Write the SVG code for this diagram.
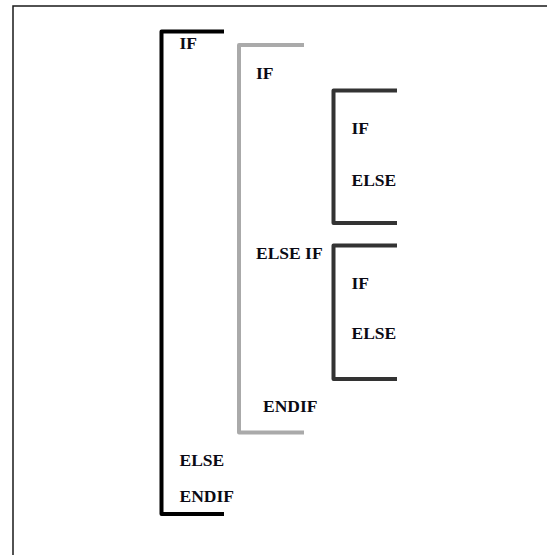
<svg xmlns="http://www.w3.org/2000/svg" width="547" height="555" viewBox="0 0 547 555">
  <style>
    .frame { fill: none; stroke: #1a1a1a; stroke-width: 1.5; }
    .br { fill: none; stroke-linejoin: round; stroke-linecap: square; }
    .outer { stroke: #000; stroke-width: 4; }
    .mid { stroke: #aaaaaa; stroke-width: 4; }
    .inner { stroke: #333; stroke-width: 4; }
    .kw { font-family: "Liberation Serif", "Times New Roman", serif; font-weight: bold; font-size: 17.5px; fill: #0a0a14; }
  </style>
  <rect width="547" height="555" fill="#fff"/>
  <rect class="frame" x="13" y="6" width="600" height="600"/>

  <!-- block brackets -->
  <g id="connectors">
    <path id="outer-block" class="br outer" d="M222 31.5 H161.5 V514 H222"/>
    <path id="mid-block" class="br mid" d="M302 45 H239 V432.5 H302"/>
    <path id="inner-block-1" class="br inner" d="M395 90.5 H333.5 V223 H395"/>
    <path id="inner-block-2" class="br inner" d="M395 245.5 H333.5 V379 H395"/>
  </g>

  <g id="outer-if"><text class="kw" x="179.5" y="49">IF</text></g>
  <g id="mid-if"><text class="kw" x="256" y="78.5">IF</text></g>
  <g id="inner-if-1"><text class="kw" x="351.5" y="133.5">IF</text></g>
  <g id="inner-else-1"><text class="kw" x="351.5" y="185.5">ELSE</text></g>
  <g id="mid-else-if"><text class="kw" x="256" y="258.5">ELSE IF</text></g>
  <g id="inner-if-2"><text class="kw" x="351.5" y="288.5">IF</text></g>
  <g id="inner-else-2"><text class="kw" x="351.5" y="339">ELSE</text></g>
  <g id="mid-endif"><text class="kw" x="263" y="412">ENDIF</text></g>
  <g id="outer-else"><text class="kw" x="179.5" y="465.5">ELSE</text></g>
  <g id="outer-endif"><text class="kw" x="179.5" y="502">ENDIF</text></g>
</svg>
